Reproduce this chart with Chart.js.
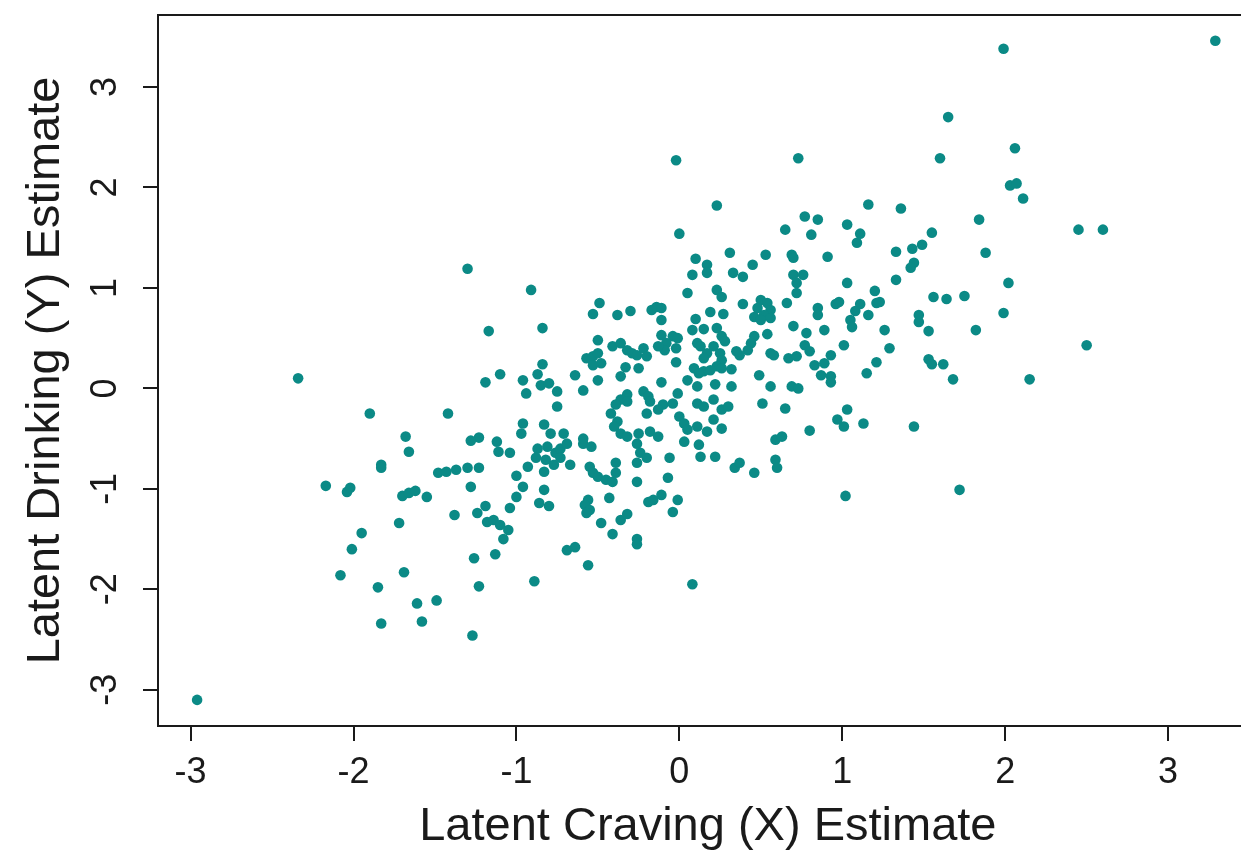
<!DOCTYPE html>
<html>
<head>
<meta charset="utf-8">
<title>Latent Craving vs Latent Drinking</title>
<script src="https://cdn.jsdelivr.net/npm/chart.js@4.4.1/dist/chart.umd.min.js"></script>
<style>
  html, body { margin: 0; padding: 0; background: #ffffff; overflow: hidden; }
  /* the plot box runs a little past the right edge of the page */
  #wrap { width: 1241px; height: 854px; overflow: hidden; }
</style>
</head>
<body>
<div id="wrap"><canvas id="scatter" width="1263" height="854"></canvas></div>
<script>
// Factor score estimates, one entry per participant (x = craving, y = drinking)
const cravingX = [
  -1.30, -0.91, -1.17, -0.84, -2.34, -1.10, -1.19, -0.84, -0.87, -0.96,
  -0.85, -0.80, -0.75, -0.94, -0.75, -1.90, -1.42, -0.96, -0.97, -0.83,
  -0.79, -1.68, -1.23, -1.28, -1.12, -1.66, -1.11, -1.04, -0.87, -0.88,
  -0.93, -1.00, -1.83, -1.83, -2.17, -2.04, -2.02, -1.70, -1.66, -1.62,
  -1.55, -1.48, -1.43, -1.37, -1.30, -1.23, -1.28, -0.96, -1.00, -1.04,
  -1.38, -1.24, -1.19, -1.18, -1.14, -1.10, -1.05, -1.08, -1.72, -1.95,
  -2.01, -1.26, -1.13, -2.08, -1.69, -1.85, -1.23, -0.89, -1.61, -1.49,
  -1.83, -1.58, -1.27, -0.86, -0.80, -0.83, -0.81, -0.76, -0.73, -0.69,
  -0.82, -0.77, -0.73, -0.83, -0.67, -0.59, -0.54, -0.55, -0.53, -0.50,
  -0.45, -0.41, -0.39, -0.39, -0.26, -0.24, -0.20, -0.26, -0.26, -0.06,
  -0.07, 0.03, 0.12, 0.13, 0.22, 0.34, 0.37, 0.46, 0.59, 0.63,
  0.59, 0.60, -0.56, -0.58, -0.55, -0.57, -0.43, -0.48, -0.36, -0.32,
  -0.41, -0.19, -0.16, -0.11, -0.01, -0.04, -0.26, -0.26, -0.69, -0.64,
  -0.56, 0.08, 0.31, 0.53, 0.10, 0.17, 0.17, 0.45, 0.33, 0.39,
  0.08, 0.05, 0.23, 0.26, 0.39, 0.50, 0.54, 0.48, 0.56, 0.52,
  0.46, 0.56, 0.50, -0.49, -0.53, -0.38, -0.30, -0.17, -0.14, -0.11,
  -0.11, 0.19, 0.27, 0.10, 0.08, 0.15, 0.23, 0.26, 0.28, 0.54,
  0.46, 0.44, 0.42, 0.37, 0.35, -0.50, -0.11, -0.04, -0.01, -0.08,
  -0.02, -0.09, -0.13, 0.11, 0.17, 0.15, 0.13, 0.21, 0.25, 0.26,
  0.23, -0.41, -0.36, -0.32, -0.29, -0.26, -0.22, -0.20, -0.57, -0.53,
  -0.50, -0.48, -0.53, 0.56, 0.58, -0.02, -0.33, -0.25, -0.64, -0.36,
  -0.50, 0.09, 0.15, 0.12, 0.19, 0.26, 0.32, 0.49, -0.59, -0.11,
  0.05, 0.11, 0.22, 0.32, 0.56, -0.01, -0.32, -0.36, -0.39, -0.32,
  -0.22, -0.19, -0.18, -0.10, -0.04, 0.11, 0.15, 0.21, 0.26, 0.30,
  0.51, -0.42, -0.38, -0.40, -0.20, -0.13, 0.00, 0.03, 0.05, 0.11,
  0.17, 0.21, 0.26, -0.36, -0.32, -0.25, -0.18, -0.13, -0.71, -0.59,
  0.73, 1.60, 2.06, 2.03, 2.07, 1.16, 1.36, 0.77, 0.85, 0.65,
  0.81, 1.03, 1.11, 1.09, 1.55, 1.84, 1.88, 0.69, 0.70, 0.91,
  1.33, 1.43, 1.49, 1.44, 1.42, 0.70, 0.76, 0.72, 0.72, 0.66,
  1.03, 1.33, 1.20, 2.02, 1.56, 1.64, 1.75, 1.99, 0.85, 0.85,
  0.96, 0.98, 1.11, 1.08, 1.05, 1.06, 1.16, 1.21, 1.23, 1.47,
  1.47, 0.70, 0.78, 0.89, 1.26, 1.53, 1.82, 0.77, 0.80, 0.67,
  0.72, 1.01, 0.93, 0.89, 0.83, 0.87, 0.93, 0.93, 1.29, 1.21,
  1.15, 1.53, 1.55, 1.62, 1.68, 0.69, 0.73, 0.65, 1.03, 0.97,
  1.01, 1.13, 0.80, 1.44, 1.02, 1.72, 3.29, 1.99, 2.11, 2.45,
  2.60, 2.50, 2.15, -0.02, 0.23, 0.00, 1.65, -2.96
];
const drinkingY = [
  1.19, 0.98, 0.57, 0.60, 0.10, 0.14, 0.06, 0.24, 0.14, 0.08,
  0.03, 0.05, -0.03, -0.05, -0.18, -0.25, -0.25, -0.35, -0.45, -0.36,
  -0.45, -0.48, -0.49, -0.52, -0.53, -0.63, -0.63, -0.64, -0.60, -0.69,
  -0.78, -0.87, -0.76, -0.79, -0.97, -1.03, -0.99, -1.07, -1.04, -1.02,
  -1.08, -0.84, -0.83, -0.81, -0.79, -0.79, -0.98, -0.98, -1.08, -1.19,
  -1.26, -1.24, -1.17, -1.33, -1.31, -1.36, -1.41, -1.50, -1.34, -1.44,
  -1.60, -1.69, -1.65, -1.86, -1.83, -1.98, -1.97, -1.92, -2.14, -2.11,
  -2.34, -2.32, -2.46, -1.14, -1.17, -1.01, -0.58, -0.64, -0.60, -0.55,
  -0.71, -0.76, -0.69, -0.83, -0.76, -0.55, -0.58, -0.78, -0.84, -0.88,
  -0.91, -0.93, -0.74, -0.84, -0.55, -0.64, -0.69, -0.74, -0.93, -0.69,
  -0.89, -0.53, -0.56, -0.68, -0.68, -0.79, -0.74, -0.84, -0.51, -0.48,
  -0.71, -0.79, -1.11, -1.16, -1.21, -1.24, -1.09, -1.34, -1.31, -1.25,
  -1.45, -1.13, -1.11, -1.06, -1.11, -1.23, -1.50, -1.55, -1.61, -1.58,
  -1.76, -1.95, 1.35, 1.33, 1.29, 1.23, 1.15, 1.23, 1.15, 1.11,
  1.13, 0.95, 0.98, 0.91, 0.84, 0.88, 0.85, 0.80, 0.78, 0.73,
  0.71, 0.70, 0.68, 0.85, 0.74, 0.73, 0.77, 0.78, 0.81, 0.80,
  0.68, 0.76, 0.74, 0.69, 0.58, 0.59, 0.60, 0.52, 0.47, 0.54,
  0.52, 0.45, 0.38, 0.33, 0.37, 0.48, 0.53, 0.52, 0.50, 0.45,
  0.40, 0.38, 0.42, 0.45, 0.35, 0.30, 0.42, 0.42, 0.35, 0.28,
  0.22, 0.42, 0.45, 0.38, 0.35, 0.33, 0.40, 0.32, 0.30, 0.32,
  0.35, 0.25, 0.23, 0.35, 0.33, 0.26, 0.21, 0.20, 0.13, 0.12,
  0.08, 0.20, 0.17, 0.15, 0.18, 0.20, 0.19, 0.13, -0.02, 0.06,
  0.08, 0.02, 0.04, 0.02, 0.02, -0.05, -0.06, -0.11, -0.16, -0.13,
  -0.03, -0.08, -0.13, -0.16, -0.15, -0.15, -0.18, -0.11, -0.21, -0.18,
  -0.15, -0.25, -0.33, -0.38, -0.25, -0.21, -0.28, -0.35, -0.41, -0.38,
  -0.43, -0.31, -0.40, -0.45, -0.48, -0.45, -0.43, -0.48, -0.45, -0.50,
  2.29, 2.29, 2.39, 2.02, 2.04, 1.83, 1.79, 1.71, 1.68, 1.58,
  1.53, 1.63, 1.54, 1.45, 1.55, 1.68, 1.35, 1.33, 1.30, 1.31,
  1.36, 1.39, 1.43, 1.25, 1.20, 1.13, 1.13, 1.05, 0.95, 0.85,
  1.05, 1.08, 0.97, 1.05, 0.91, 0.89, 0.92, 0.75, 0.80, 0.73,
  0.84, 0.86, 0.84, 0.77, 0.68, 0.61, 0.73, 0.85, 0.86, 0.73,
  0.66, 0.62, 0.55, 0.58, 0.58, 0.57, 0.58, 0.43, 0.37, 0.30,
  0.32, 0.43, 0.33, 0.25, 0.23, 0.13, 0.12, 0.06, 0.40, 0.26,
  0.15, 0.29, 0.24, 0.24, 0.09, 0.02, 0.00, -0.20, -0.21, -0.31,
  -0.38, -0.35, -0.42, -0.38, -1.07, -1.01, 3.46, 3.38, 1.89, 1.58,
  1.58, 0.43, 0.09, 2.27, 1.82, 1.54, 2.70, -3.10
];

const xTickValues = [-3, -2, -1, 0, 1, 2, 3];
const yTickValues = [-3, -2, -1, 0, 1, 2, 3];

const INK = '#1a1a1a';
const FONT = '"Liberation Sans", Arial, Helvetica, sans-serif';

const points = cravingX.map((x, i) => ({ x: x, y: drinkingY[i] }));

// box around the plotting region
const frameBox = {
  id: 'frameBox',
  afterDatasetsDraw(chart) {
    const { ctx, chartArea: a } = chart;
    ctx.save();
    ctx.strokeStyle = INK;
    ctx.lineWidth = 2;
    ctx.strokeRect(a.left, a.top, a.right - a.left, a.bottom - a.top);
    ctx.restore();
  }
};

// y tick labels run parallel to the axis
const sideLabels = {
  id: 'sideLabels',
  afterDraw(chart) {
    const { ctx } = chart;
    const scale = chart.scales.y;
    ctx.save();
    ctx.fillStyle = INK;
    ctx.font = '36px ' + FONT;
    ctx.textAlign = 'center';
    ctx.textBaseline = 'middle';
    scale.ticks.forEach(t => {
      ctx.save();
      ctx.translate(scale.right - 52, scale.getPixelForValue(t.value));
      ctx.rotate(-Math.PI / 2);
      ctx.fillText(String(t.value), 0, 0);
      ctx.restore();
    });
    ctx.restore();
  }
};

new Chart(document.getElementById('scatter'), {
  type: 'scatter',
  data: {
    datasets: [{
      data: points,
      backgroundColor: '#0b8a86',
      borderWidth: 0,
      pointRadius: 5.3,
      pointHoverRadius: 5.3
    }]
  },
  plugins: [frameBox, sideLabels],
  options: {
    responsive: false,
    animation: false,
    devicePixelRatio: 1,
    events: [],
    layout: {
      padding: { top: 15, right: 0, bottom: 0, left: 0 }
    },
    plugins: {
      legend: { display: false },
      tooltip: { enabled: false }
    },
    scales: {
      x: {
        type: 'linear',
        position: 'bottom',
        min: -3.2,
        max: 3.55,
        afterBuildTicks: scale => { scale.ticks = xTickValues.map(v => ({ value: v })); },
        afterFit: scale => { scale.height = 128; },
        border: { display: false },
        grid: {
          drawOnChartArea: false,
          drawTicks: true,
          tickLength: 15,
          color: INK,
          lineWidth: 2
        },
        ticks: {
          color: INK,
          font: { family: FONT, size: 36 },
          padding: 10,
          maxRotation: 0,
          autoSkip: false,
          callback: v => String(v)
        },
        title: {
          display: true,
          text: 'Latent Craving (X) Estimate',
          color: INK,
          font: { family: FONT, size: 47, lineHeight: 1 },
          padding: { top: 0, bottom: 3 }
        }
      },
      y: {
        type: 'linear',
        position: 'left',
        min: -3.36,
        max: 3.716,
        afterBuildTicks: scale => { scale.ticks = yTickValues.map(v => ({ value: v })); },
        afterFit: scale => { scale.width = 158; },
        border: { display: false },
        grid: {
          drawOnChartArea: false,
          drawTicks: true,
          tickLength: 15,
          color: INK,
          lineWidth: 2
        },
        ticks: { display: false },
        title: {
          display: true,
          text: 'Latent Drinking (Y) Estimate',
          color: INK,
          font: { family: FONT, size: 47, lineHeight: 1 },
          padding: { top: 23, bottom: 0 }
        }
      }
    }
  }
});
</script>
</body>
</html>
